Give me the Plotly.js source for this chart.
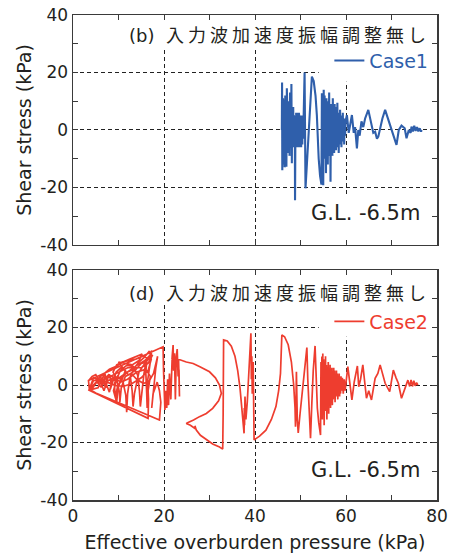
<!DOCTYPE html>
<html><head><meta charset="utf-8">
<script src="https://cdn.plot.ly/plotly-3.0.1.min.js"></script>
<style>html,body{margin:0;padding:0;background:#fff}#chart{width:454px;height:558px}</style>
</head><body><div id="chart"></div>
<script>
// ---- data ----
const case1X = [
45.9,45.95,46.0,46.05,46.1,46.15,46.2,46.25,46.3,46.35,
46.4,46.45,46.5,46.55,46.6,46.65,46.7,46.75,46.8,46.85,
46.9,46.95,47.0,47.05,47.1,47.15,47.2,47.25,47.3,47.35,
47.4,47.45,47.5,47.55,47.6,47.65,47.7,47.75,47.8,47.85,
47.9,47.95,48.0,48.05,48.1,48.15,48.2,48.25,48.3,48.35,
48.4,48.45,48.5,48.55,48.6,48.65,48.7,48.75,48.8,48.85,
48.9,48.95,49.0,49.05,49.1,49.15,49.2,49.25,49.3,49.35,
49.4,49.45,49.5,49.55,49.6,49.65,49.7,49.75,49.8,49.85,
49.9,49.95,50.0,50.05,50.1,50.15,50.2,50.25,50.3,50.35,
50.4,50.45,50.5,50.55,
50.6,50.9,51.1,51.4,51.7,52.0,52.3,52.5,52.9,53.3,
53.6,53.8,54.0,54.3,54.6,54.7,54.8,54.9,55.0,55.1,
55.2,55.3,55.4,55.5,55.6,55.7,55.8,55.9,56.0,56.1,
56.2,56.3,56.4,56.5,56.6,56.7,56.8,56.9,57.0,57.1,
57.2,57.3,57.4,57.5,57.6,57.7,57.8,57.9,58.0,58.1,
58.2,58.3,58.4,58.5,58.6,58.7,58.8,58.9,59.0,59.1,
59.2,59.3,59.4,59.5,59.6,59.7,59.8,59.9,60.2,60.6,
60.9,61.3,61.7,62.0,62.4,62.7,63.0,63.4,63.8,64.2,
64.9,65.5,66.0,66.4,66.8,67.1,67.6,68.0,68.6,69.1,
69.6,70.3,71.1,71.6,72.2,72.9,73.3,73.8,74.2,74.4,
74.7,75.0,75.3,75.6,75.9,76.2,76.5,76.6];
const case1Y = [
0,16.5,-14,6,-9,11,-5,8,-12,10,
-4,5,-13,9,-6,12,-7,4,12,-5,
-12.8,6,14.5,-3,4,-8,7,-5,10,-6,
-5,6,7,-4,-9,5,13,-6,-4,8,
5,-5,16,-7,-11.6,5,3,-5,-6,6,
8,-4,-3,5,4.7,-6,-5,3,-24.4,-2,
4,-5,-6,6,5,-4,-4,5,6,-6,
-5,4,4,-5,-3,6,5,-4,-6,5,
3,-5,-4,4,5,-6,-3,5,4,-4,
-5,3,2,-3,
-2,20,-20.3,-12,-4,5,13,18.6,17,12,
5,-3,-10,-16,-19,12.8,-8,10,-19.2,14,
-6,12,-10,8,-15,11,-5,9,-12,10,
-7,13,-9,7,-18,9,-6,8,-9,11,
-5,7,-8,9,-4,6,-7,8,-5,9.5,
-6,5,-8,6,-3,7,-5,4,-6,5,
-3,6,-4,3,-5,4,-2,3,5.2,-1,
2,5.2,-1,1,-6.4,0,-2,3,1,4,
7,2,-1,-0.6,-3,-2.3,2,4,7,4.5,
2.3,-2,-5.2,0,1.5,0.6,-2.9,0,-1,1.2,
-0.5,1.5,-0.3,1,-0.5,0.6,-0.6,0];

const case2X = [
3.4,4.2,5.0,5.6,5.0,4.4,3.5,5.5,6.5,7.0,
7.5,6.8,6.2,7.8,8.5,8.2,8.8,9.5,10.5,11.5,
10.8,9.8,9.3,9.1,9.8,11.0,11.6,11.8,12.0,12.5,
13.5,14.5,15.6,16.8,17.2,16.5,15.0,13.0,11.0,9.0,
7.5,6.0,4.5,3.5,7.0,10.5,14.0,16.5,16.6,16.4,
16.9,17.3,17.0,15.8,14.2,12.5,11.0,9.7,8.8,9.6,
10.8,12.3,13.8,15.3,16.2,15.6,15.1,14.8,14.6,14.2,
13.2,11.8,10.4,9.6,10.2,10.3,10.6,11.5,12.8,14.0,
15.5,16.8,17.7,18.3,18.6,18.2,17.8,17.5,17.3,17.6,
18.5,19.0,19.3,19.0,15.5,12.0,8.0,5.0,3.6,
5.2,6.0,6.6,7.2,7.6,8.0,8.4,8.0,7.4,6.4,
5.4,6.2,7.0,8.6,9.4,8.9,9.6,9.9,10.6,12.0,
13.4,12.6,13.0,13.2,13.5,14.5,16.0,17.5,16.5,15.0,
12.0,9.0,7.0,5.0,
6.5,8.0,9.5,11.0,12.5,14.0,15.2,14.5,13.0,11.5,
10.0,11.2,12.2,13.6,15.0,16.2,16.0,16.2,16.3,16.5,
17.0,16.0,14.0,12.0,10.5,9.0,7.8,6.5,5.5,4.5,
3.6,3.4,
7.0,11.0,15.0,19.8,19.9,20.0,20.2,20.4,20.6,20.8,
21.0,21.2,21.5,21.8,22.0,22.1,22.3,22.5,22.7,22.9,
23.1,23.2,23.4,23.3,23.0,22.4,21.6,23.5,24.9,26.4,
28.0,30.0,31.3,32.2,32.6,32.0,30.7,29.3,27.8,26.5,
25.3,24.9,25.8,26.4,26.9,26.8,27.1,28.0,29.3,30.7,
32.2,32.9,33.0,33.05,33.1,33.9,34.8,35.6,36.2,36.7,
37.1,37.4,37.6,37.65,37.7,37.8,38.0,38.3,38.7,39.0,
39.1,39.2,39.3,39.4,39.6,39.8,41.0,42.4,43.6,44.6,
45.2,45.6,45.8,45.9,46.5,47.3,48.0,48.5,48.8,48.9,
49.0,49.1,49.3,49.5,49.9,50.4,50.9,51.4,51.6,51.9,
52.2,52.5,52.8,53.2,53.4,53.7,54.0,54.4,54.5,54.6,
54.7,54.8,54.9,55.0,55.1,55.2,55.3,55.4,55.5,55.6,
55.7,55.8,55.9,56.0,56.1,56.2,56.3,56.4,56.5,56.6,
56.7,56.8,56.9,57.0,57.1,57.2,57.3,57.4,57.5,57.6,
57.7,57.8,57.9,58.0,58.1,58.2,58.3,58.4,58.5,58.6,
58.7,58.8,58.9,59.0,59.2,59.4,59.6,59.8,60.4,60.9,
61.3,61.8,62.5,62.8,63.2,63.7,64.1,64.5,65.0,65.6,
66.4,67.0,67.5,68.1,68.6,69.6,70.4,71.0,71.5,72.2,
72.8,73.3,73.6,74.0,74.3,74.6,74.9,75.2,75.5,75.8];
const case2Y = [
1.5,3.0,3.6,2.0,0.5,-0.8,-1.8,-1.0,2.5,4.0,
1.0,-2.0,0.5,3.5,2.0,-1.5,1.5,4.5,6.0,5.0,
2.0,-0.5,-4.5,0.5,3.0,1.0,-3.5,-9.5,-3.0,2.5,
6.0,8.0,9.5,11.8,9.0,5.0,2.5,0.5,-0.5,0.0,
1.0,2.0,1.5,-1.8,-4.4,-7.0,-9.6,-11.6,-5.0,1.5,
7.0,12.0,10.5,8.5,7.0,5.0,3.5,2.0,4.5,7.0,
8.0,8.5,9.0,10.0,9.5,4.0,-3.0,-7.5,-2.0,3.5,
6.5,6.8,5.0,2.0,-2.5,-6.0,-1.0,3.0,4.0,2.0,
0.5,1.5,4.0,7.5,10.0,6.0,0.0,-4.5,-8.0,-3.0,
1.0,-2.0,-6.0,-12.2,-9.8,-7.4,-4.8,-2.8,-1.5,
1.2,3.0,1.0,-1.0,2.2,3.8,0.5,-2.5,0.0,1.8,
0.8,-0.8,2.8,3.2,1.0,-2.0,-6.0,-1.0,2.5,4.5,
5.5,3.0,-2.0,-7.5,-3.0,4.5,8.0,10.5,7.5,6.0,
6.0,3.5,2.0,1.5,
3.5,5.5,6.5,8.0,9.0,10.0,10.8,8.5,7.0,7.5,
8.0,5.5,3.5,5.0,7.5,8.0,4.5,-3.0,-8.0,-2.0,
3.0,5.5,4.5,2.0,1.0,2.5,1.5,0.5,2.0,2.5,
-1.5,1.6,
4.2,7.0,9.8,13.3,5,-2,-8.7,-2,-8,2,
-7,4,-5,10,13.9,5,11,-5,10,12.5,
3,9,-4,5,8.5,9.3,9.3,8.8,8,7.5,
6.3,4.6,2.5,0,-2.9,-5.5,-8.1,-9.9,-11,-12.2,
-13,-13.4,-14,-14.5,-15.2,-14.2,-15.7,-17.5,-19.1,-20.5,
-21.6,-22.3,-10,5,15.7,15.3,13.5,10,5,-1,
-7,-12,-16.8,-8,-14,-4,-12,-6,5,12,
18,2,10,-3,8,-19.1,-17.8,-15.7,-12,-7.5,
-2,4,11,17.4,16.8,14,8,0,-8,-14.5,
-8,4.6,-12,-16.7,-10,-2,5,13,2,-10,
-18.5,-6,5,13.6,2,-8,-13,-17.4,8,-9,
9.9,-12,11,-7,9,-14,8,-6,10,-9,
7,-12,6,-5,8,-10,5,-6,7,-8,
5,-4,6,-7,4,-5,6,-3,5,-6,
3,-4,5,-3,4,-5,3,-2,4,-4,
2,-3,3,-2,2.5,-3,2,-2,6.4,-1,
-5.2,1,6.6,-0.6,2,7,1,-4.6,-2,-5.2,
2.3,4,7,3,0.6,-2.3,5.2,2.5,0.6,-4.6,
-2,0,1.7,-0.5,1.8,-0.5,1.5,-0.3,0.8,0];

const seriesNames = ['Case1', 'Case2'];
const seriesColors = ['#2f5fab', '#ee3d2f'];
const panelPrefixes = ['(b)', '(d)'];
const panelTitle = '入力波加速度振幅調整無し';
const depthLabel = 'G.L. -6.5m';
const xTickVals = [0, 20, 40, 60, 80];
const xTickText = ['0', '20', '40', '60', '80'];
const xMinorVals = [10, 30, 50, 70];
const yTickVals = [-40, -20, 0, 20, 40];
const yTickText = ['-40', '-20', '0', '20', '40'];
const yMinorVals = [-30, -10, 10, 30];
const xTitle = 'Effective overburden pressure (kPa)';
const yTitle = 'Shear stress (kPa)';

// ---- styling ----
const FONT = 'DejaVu Sans, Noto Sans CJK JP, sans-serif';
const TXT = '#231f20';
const AX = '#3a3a3a';

function xAxis(anchor, showLabels) {
  const a = {
    anchor: anchor, domain: [0, 1], range: [0, 80], tickmode: 'array',
    tickvals: xTickVals, ticktext: xTickText, ticks: 'inside', ticklen: 5,
    tickwidth: 1, tickcolor: AX, showline: true, linecolor: AX, linewidth: 1.5,
    mirror: 'allticks', showgrid: true, gridcolor: '#222', gridwidth: 1,
    griddash: '4px,3px', zeroline: false, showticklabels: showLabels,
    tickfont: {family: FONT, size: 17, color: TXT},
    minor: {tickmode: 'array', tickvals: xMinorVals, ticks: 'inside', ticklen: 5,
            tickwidth: 1, tickcolor: AX, showgrid: false}
  };
  if (showLabels) a.title = {text: xTitle, font: {family: FONT, size: 19, color: TXT}, standoff: 11};
  return a;
}
function yAxis(anchor, domain) {
  return {
    anchor: anchor, domain: domain, range: [-40, 40], tickmode: 'array',
    tickvals: yTickVals, ticktext: yTickText, ticks: 'inside', ticklen: 5,
    tickwidth: 1, tickcolor: AX, showline: true, linecolor: AX, linewidth: 1.5,
    mirror: 'allticks', showgrid: true, gridcolor: '#222', gridwidth: 1,
    griddash: '4px,3px', zeroline: false,
    tickfont: {family: FONT, size: 17, color: TXT},
    title: {text: yTitle, font: {family: FONT, size: 19, color: TXT}, standoff: 3},
    minor: {tickmode: 'array', tickvals: yMinorVals, ticks: 'inside', ticklen: 5,
            tickwidth: 1, tickcolor: AX, showgrid: false}
  };
}

const traces = [
  {x: case1X, y: case1Y, xaxis: 'x', yaxis: 'y', type: 'scatter', mode: 'lines',
   name: seriesNames[0], line: {color: seriesColors[0], width: 2.1}, legend: 'legend'},
  {x: case2X, y: case2Y, xaxis: 'x2', yaxis: 'y2', type: 'scatter', mode: 'lines',
   name: seriesNames[1], line: {color: seriesColors[1], width: 1.7}, legend: 'legend2'}
];

function masks(xr, yr) {
  const base = {type: 'rect', xref: xr, yref: yr, fillcolor: '#ffffff', line: {width: 0}, layer: 'between'};
  return [
    Object.assign({}, base, {x0: 8, x1: 80, y0: 27.8, y1: 40}),
    Object.assign({}, base, {x0: 54, x1: 80, y0: 16.8, y1: 27.8}),
    Object.assign({}, base, {x0: 52, x1: 80, y0: -40, y1: -23.3})
  ];
}

function titleText(i) {
  return panelPrefixes[i] + '  <span style="letter-spacing:4px">' + panelTitle + '</span>';
}

const layout = {
  width: 454, height: 558,
  margin: {l: 73, r: 17, t: 15, b: 58},
  paper_bgcolor: '#ffffff', plot_bgcolor: '#ffffff',
  showlegend: true,
  xaxis: xAxis('y', false),
  yaxis: yAxis('x', [0.5258, 1]),
  xaxis2: xAxis('y2', true),
  yaxis2: yAxis('x2', [0, 0.4742]),
  legend: {x: 0.99, xanchor: 'right', y: 0.945, yanchor: 'top', bgcolor: 'rgba(0,0,0,0)',
           font: {family: FONT, size: 19, color: seriesColors[0]}},
  legend2: {x: 0.99, xanchor: 'right', y: 0.407, yanchor: 'top', bgcolor: 'rgba(0,0,0,0)',
           font: {family: FONT, size: 19, color: seriesColors[1]}},
  shapes: masks('x', 'y').concat(masks('x2', 'y2')),
  annotations: [
    {xref: 'paper', yref: 'y domain', x: 0.985, y: 0.91, xanchor: 'right', yanchor: 'middle',
     text: titleText(0), showarrow: false, font: {family: FONT, size: 18, color: TXT}},
    {xref: 'paper', yref: 'y2 domain', x: 0.985, y: 0.90, xanchor: 'right', yanchor: 'middle',
     text: titleText(1), showarrow: false, font: {family: FONT, size: 18, color: TXT}},
    {xref: 'paper', yref: 'y domain', x: 0.96, y: 0.14, xanchor: 'right', yanchor: 'middle',
     text: depthLabel, showarrow: false, font: {family: FONT, size: 21, color: TXT}},
    {xref: 'paper', yref: 'y2 domain', x: 0.96, y: 0.13, xanchor: 'right', yanchor: 'middle',
     text: depthLabel, showarrow: false, font: {family: FONT, size: 21, color: TXT}}
  ]
};

Plotly.newPlot('chart', traces, layout, {staticPlot: true, displayModeBar: false});
</script>
</body></html>
